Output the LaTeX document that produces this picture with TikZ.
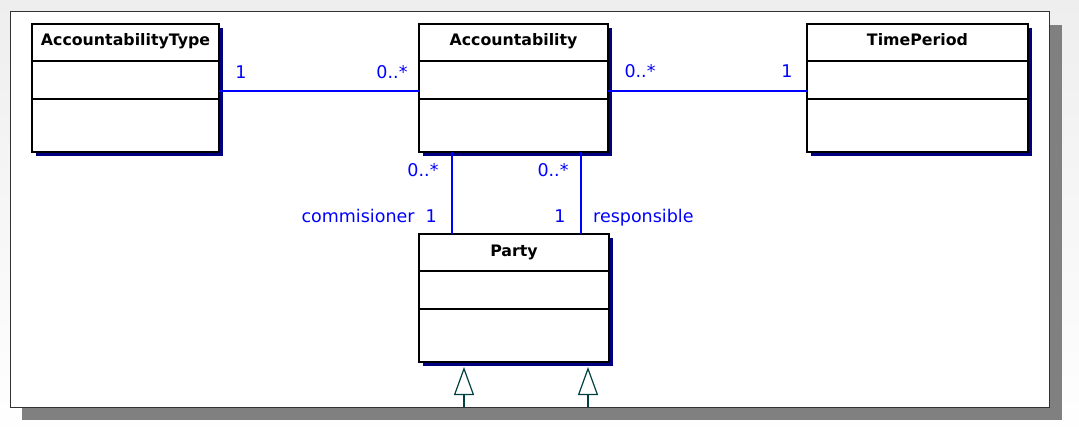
\documentclass[tikz,border=0pt]{standalone}
\usepackage{fontspec}
\setmainfont{DejaVu Sans}
\usetikzlibrary{shadows,arrows.meta}
\definecolor{navyshadow}{RGB}{0,0,128}
\definecolor{assocblue}{RGB}{0,0,255}
\definecolor{gentea}{RGB}{0,64,64}
\definecolor{framegray}{RGB}{50,50,50}
\definecolor{outshadow}{RGB}{128,128,128}
\definecolor{bgtop}{RGB}{238,238,238}
\tikzset{
  cls/.style={draw=black, fill=white, line width=1.3pt, inner sep=0pt, outer sep=0pt,
    anchor=north west,
    drop shadow={shadow xshift=4pt, shadow yshift=-4pt, fill=navyshadow, opacity=1}},
  div/.style={draw=black, line width=1.1pt},
  title/.style={font=\bfseries\fontsize{15.8}{18}\selectfont, inner sep=0pt, anchor=base},
  lbl/.style={font=\fontsize{17.5}{20}\selectfont, text=assocblue, inner sep=0pt},
  assoc/.style={draw=assocblue, line width=2pt},
  gen/.style={draw=gentea, line width=1.2pt, -{Triangle[open, length=28pt, width=20pt]}}
}
\begin{document}
\begin{tikzpicture}[x=1pt, y=-1pt]
\useasboundingbox (0,0) rectangle (1079,441);
\shade[top color=bgtop, bottom color=white] (0,0) rectangle (1079,441);
% frame
\fill[outshadow] (22,25) rectangle (1062,420);
\draw[fill=white, draw=framegray, line width=1pt] (10,12) rectangle (1049,407);

% classes
\node[cls, minimum width=187pt, minimum height=128pt] (at) at (32,24) {};
\node[cls, minimum width=189pt, minimum height=128pt] (acc) at (419,24) {};
\node[cls, minimum width=221pt, minimum height=128pt] (tp) at (807,24) {};
\node[cls, minimum width=190pt, minimum height=128pt] (party) at (419,234) {};

\foreach \n in {at,acc,tp,party}{
  \draw[div] ([yshift=-37pt]\n.north west) -- ([yshift=-37pt]\n.north east);
  \draw[div] ([yshift=-75pt]\n.north west) -- ([yshift=-75pt]\n.north east);
}

\node[title] (at-t) at ([yshift=-22pt]at.north) {AccountabilityType};
\node[title] (acc-t) at ([yshift=-22pt]acc.north) {Accountability};
\node[title] (tp-t) at ([yshift=-22pt]tp.north) {TimePeriod};
\node[title] (party-t) at ([yshift=-22pt]party.north) {Party};

% associations
\coordinate (h1) at (0,91);
\coordinate (v1) at (452,0);
\coordinate (v2) at (581,0);
\draw[assoc] (at.east |- h1) -- (acc.west |- h1);
\draw[assoc] (acc.east |- h1) -- (tp.west |- h1);
\draw[assoc] (acc.south -| v1) -- (party.north -| v1);
\draw[assoc] (acc.south -| v2) -- (party.north -| v2);

% multiplicities and roles
\node[lbl, anchor=base] (m1) at (241,79) {1};
\node[lbl, anchor=base] (m2) at (392,79) {0..*};
\node[lbl, anchor=base] (m3) at (640,78) {0..*};
\node[lbl, anchor=base] (m4) at (787,78) {1};
\node[lbl, anchor=base] (m5) at (423,176) {0..*};
\node[lbl, anchor=base] (m6) at (553,176) {0..*};
\node[lbl, anchor=base east] (r1) at (437,222) {commisioner\ \ 1};
\node[lbl, anchor=base] (m7) at (560,222) {1};
\node[lbl, anchor=base west] (r2) at (593,222) {responsible};

% generalizations
\coordinate (g1) at (464,407);
\coordinate (g2) at (588,407);
\draw[gen, shorten >=5pt] (g1) -- (party.south -| g1);
\draw[gen, shorten >=5pt] (g2) -- (party.south -| g2);
\end{tikzpicture}
\end{document}
